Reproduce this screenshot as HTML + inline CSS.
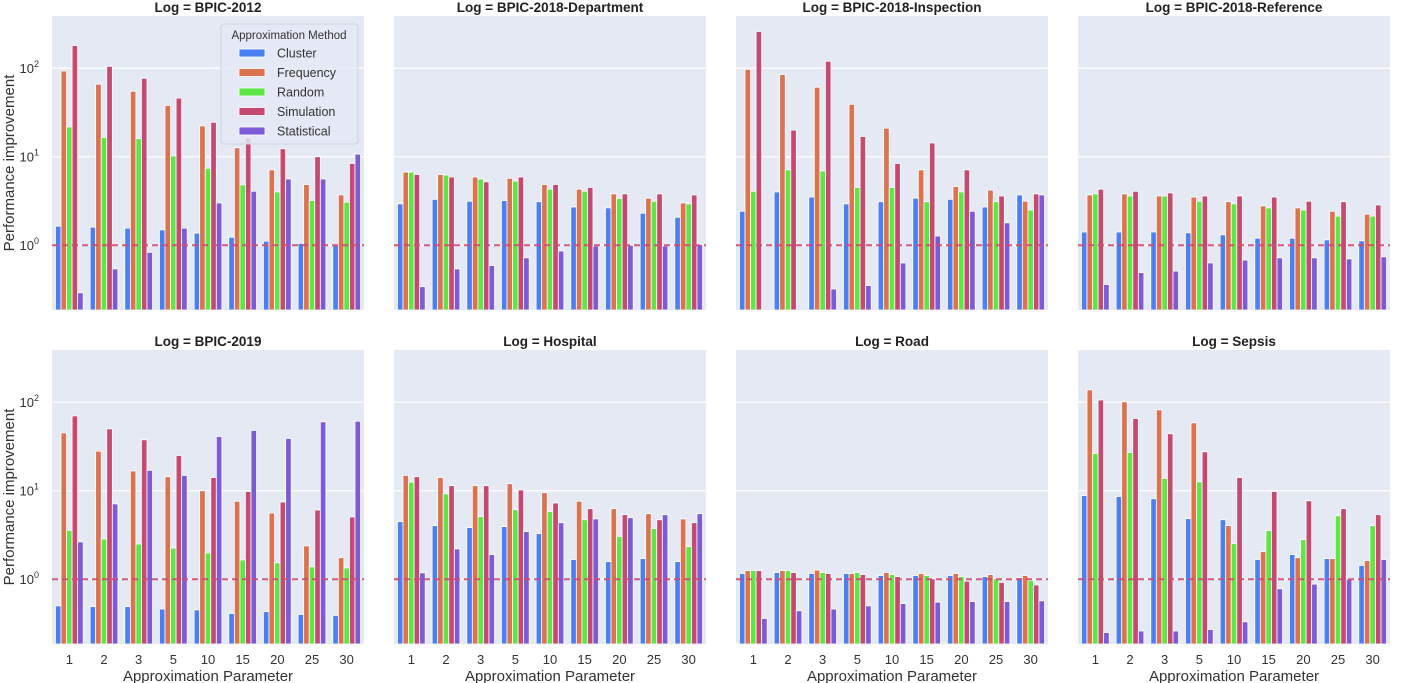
<!DOCTYPE html>
<html><head><meta charset="utf-8"><style>
body{margin:0;background:#fff;}
svg{display:block;font-family:"Liberation Sans",sans-serif;}
</style></head><body>
<svg id="chart" width="1404" height="683" xmlns="http://www.w3.org/2000/svg"></svg>
<script>
const categories = ["1","2","3","5","10","15","20","25","30"];
const methods = ["Cluster","Frequency","Random","Simulation","Statistical"];
const colors = ["#4a80f2","#dc7250","#5ee646","#c64a70","#7b5cd6"];
const logs = ["BPIC-2012","BPIC-2018-Department","BPIC-2018-Inspection","BPIC-2018-Reference","BPIC-2019","Hospital","Road","Sepsis"];
const bpic2012 = [
 [1.64,1.6,1.56,1.49,1.37,1.23,1.11,1.05,1.0],
 [93,66,55,38,22.3,12.6,7.1,4.85,3.7],
 [21.7,16.5,16,10.2,7.4,4.8,4.0,3.2,3.06],
 [180,105,77,46,24.5,16.4,12.3,10,8.4],
 [0.29,0.54,0.83,1.56,3.0,4.07,5.6,5.6,10.7]];
const bpic2018Dept = [
 [2.93,3.3,3.14,3.2,3.1,2.7,2.64,2.3,2.07],
 [6.7,6.3,5.9,5.7,4.85,4.3,3.8,3.4,3.0],
 [6.7,6.2,5.6,5.3,4.3,4.07,3.37,3.14,2.93],
 [6.3,5.9,5.2,5.9,4.85,4.5,3.8,3.8,3.7],
 [0.34,0.54,0.59,0.72,0.86,0.98,1.0,0.98,1.02]];
const bpic2018Insp = [
 [2.42,4.0,3.5,2.93,3.1,3.4,3.3,2.7,3.7],
 [97,85,61,39,21,7.1,4.6,4.2,3.14],
 [4.07,7.1,6.9,4.5,4.5,3.1,4.0,3.1,2.5],
 [260,20,120,16.9,8.4,14.3,7.1,3.6,3.8],
 [0,0,0.32,0.35,0.63,1.27,2.42,1.79,3.7]];
const bpic2018Ref = [
 [1.41,1.41,1.41,1.38,1.31,1.2,1.2,1.15,1.12],
 [3.7,3.8,3.6,3.5,3.1,2.78,2.64,2.42,2.24],
 [3.8,3.6,3.6,3.14,2.93,2.64,2.5,2.13,2.13],
 [4.3,4.07,3.9,3.6,3.6,3.5,3.14,3.1,2.85],
 [0.36,0.49,0.51,0.63,0.68,0.72,0.72,0.7,0.74]];
const bpic2019 = [
 [0.5,0.49,0.49,0.46,0.45,0.41,0.43,0.4,0.39],
 [45,28,16.7,14.4,10,7.6,5.6,2.38,1.75],
 [3.57,2.85,2.5,2.25,1.98,1.65,1.53,1.38,1.34],
 [70,50,37.6,25,14.1,9.8,7.45,6.05,5.05],
 [2.64,7.1,17,14.9,41,48,39,60,61]];
const hospital = [
 [4.47,4.03,3.83,3.93,3.27,1.67,1.58,1.71,1.58],
 [14.9,14.1,11.4,12,9.5,7.6,6.27,5.5,4.8],
 [12.5,9.2,5.1,6.1,5.8,4.7,3.03,3.73,2.33],
 [14.4,11.4,11.4,10.2,7.26,6.27,5.36,4.7,4.35],
 [1.18,2.2,1.9,3.45,4.35,4.8,4.96,5.36,5.5]];
const road = [
 [1.16,1.19,1.16,1.16,1.1,1.1,1.1,1.07,1.04],
 [1.25,1.25,1.27,1.16,1.19,1.16,1.16,1.13,1.1],
 [1.25,1.25,1.19,1.19,1.13,1.1,1.07,1.01,0.97],
 [1.25,1.19,1.16,1.13,1.07,1.01,0.95,0.92,0.86],
 [0.36,0.44,0.46,0.5,0.53,0.55,0.56,0.56,0.57]];
const sepsis = [
 [8.8,8.6,8.1,4.83,4.7,1.67,1.9,1.71,1.43],
 [138,101,82,58.5,4.03,2.05,1.75,1.71,1.62],
 [26.4,27,13.8,12.6,2.52,3.54,2.8,5.2,4.03],
 [106,65.5,44,27.5,14.1,9.8,7.7,6.27,5.36],
 [0.25,0.26,0.26,0.27,0.33,0.78,0.88,1.0,1.67]];
const datasets = [bpic2012,bpic2018Dept,bpic2018Insp,bpic2018Ref,bpic2019,hospital,road,sepsis];
const yTicks = [1,10,100];

const NS="http://www.w3.org/2000/svg";
const svg=document.getElementById('chart');
function mk(tag,attrs,parent){const e=document.createElementNS(NS,tag);for(const k in attrs)e.setAttribute(k,attrs[k]);(parent||svg).appendChild(e);return e;}
const colX=[52,394,736,1078], rowY=[16,350], PW=312, PH=294;
const DEC=88.5, LOGMAX=2.59, LOGMIN=-0.73;
function slug(s){return s.toLowerCase().replace(/[^a-z0-9]+/g,'-');}

datasets.forEach((data,p)=>{
  const r=Math.floor(p/4), c=p%4, x0=colX[c], y0=rowY[r];
  const yScale=v=>y0+(LOGMAX-Math.log10(v))*DEC;
  const band=PW/categories.length, bw=band*0.8/methods.length;
  const xScale=(i,m)=>x0+i*band+band*0.1+m*bw;
  const g=mk('g',{});
  
  
  const bg=mk('rect',{x:x0,y:y0,width:PW,height:PH,fill:'#e5e9f4'},g);
  
  
  yTicks.forEach(t=>{
    const y=yScale(t);
    const gl=mk('line',{x1:x0,x2:x0+PW,y1:y,y2:y,stroke:'#fff','stroke-width':1.2},g);
    
    
    if(c===0){
      const tx=mk('text',{x:x0-13,y:y+5,'text-anchor':'end','font-size':13,fill:'#333'},g);
      
      
      const e=Math.round(Math.log10(t));
      tx.appendChild(document.createTextNode('10'));
      const sup=mk('tspan',{dy:-6,'font-size':9},tx);sup.textContent=e;
    }
  });
  const ttl=mk('text',{x:x0+PW/2,y:y0-4,'text-anchor':'middle','font-size':13.5,'font-weight':'bold',fill:'#222'},g);
  
  
  ttl.textContent='Log = '+logs[p];
  const bottom=y0+PH;
  data.forEach((series,m)=>{
    series.forEach((v,i)=>{
      if(!(v>0))return;
      let y=Math.max(yScale(v),y0);
      if(y>=bottom)return;
      const b=mk('rect',{x:xScale(i,m),y:y,width:bw,height:bottom-y,fill:colors[m],stroke:'#fff','stroke-width':0.8},g);
      
      
    });
  });
  const ref=mk('line',{x1:x0,x2:x0+PW,y1:yScale(1),y2:yScale(1),stroke:'#d24a72','stroke-width':2,'stroke-dasharray':'6,4',opacity:0.9},g);
  
  
  if(r===1){
    categories.forEach((cat,i)=>{
      const t=mk('text',{x:x0+i*band+band/2,y:664,'text-anchor':'middle','font-size':13,fill:'#333'},g);
      
      
      t.textContent=cat;
    });
    const xt=mk('text',{x:x0+PW/2,y:681,'text-anchor':'middle','font-size':15,fill:'#333'},g);
    
    
    xt.textContent='Approximation Parameter';
  }
  if(c===0){
    const yt=mk('text',{x:0,y:0,transform:`translate(14,${y0+PH/2}) rotate(-90)`,'text-anchor':'middle','font-size':15,fill:'#333'},g);
    
    
    yt.textContent='Performance improvement';
  }
});
const lg=mk('g',{});


const lbox=mk('rect',{x:221,y:24,width:137,height:120,rx:3,fill:'#e5e9f4','fill-opacity':0.85,stroke:'#cfd3dc'},lg);


const lt=mk('text',{x:289,y:39,'text-anchor':'middle','font-size':11.5,fill:'#333'},lg);


lt.textContent='Approximation Method';
methods.forEach((m,i)=>{
  const y=53+i*19.5;
  const sw=mk('rect',{x:239,y:y-4,width:26,height:8,fill:colors[i],stroke:'#fff','stroke-width':0.8},lg);
  
  
  const tx=mk('text',{x:277,y:y+4.5,'font-size':12.5,fill:'#333'},lg);
  
  
  tx.textContent=m;
});
</script>
</body></html>
